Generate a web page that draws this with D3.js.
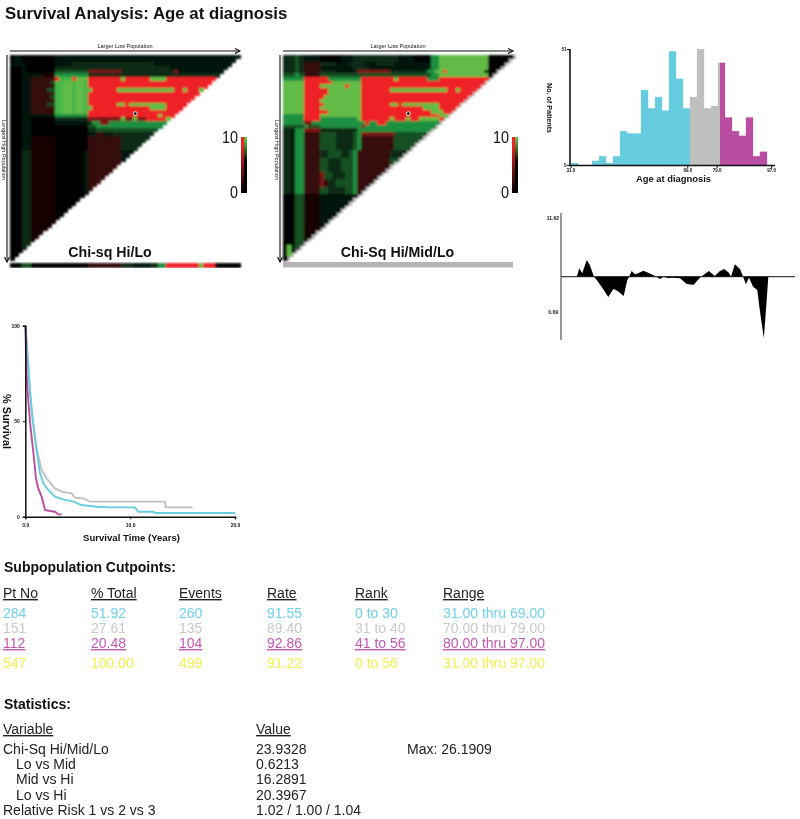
<!DOCTYPE html>
<html><head><meta charset="utf-8">
<script src="https://cdnjs.cloudflare.com/ajax/libs/d3/7.8.5/d3.min.js"></script>
<style>html,body{margin:0;padding:0;background:#fff}svg{display:block;filter:blur(0.4px)}text{font-family:"Liberation Sans",Arial,sans-serif}</style>
</head><body><svg id="c" width="800" height="819"></svg>
<script>
// ---- data -------------------------------------------------------------
const mapSize = 56;
// Heat-map rows: "repeat*runs", each run = length + level letter.
const hiLoRows = [
"1*1k1a1a8k10a12a24a","1*1k1a1a8k10a14a22a","1*3a1a7k4a20b21a","1*3k1a7k8b20b17a",
"1*3k1a7k8c8s13b1s15a","1*3k1a4a3q8e37b",
"1*3k2a6r1R3H1R3G8R1G6R4G20R","1*3k2a5r1c2H2G1H2G1H38R","1*3k2a6r2H2G1H2G1H37R",
"1*3k2a4r2c2H2G1H2G1H1G6R14G2R1G3R1G1R","1*3k2a6r2H2G1H2G1H37R","1*3k2a5r1c2H2G1H2G1H37R",
"1*3k2a6r2H2G1H2G1H37R","1*3k2a4r2c2H2G1H2G1H7R2G1R9G20R","1*3k2a6r2H2G1H2G1H1G14R4G20R",
"1*3k2a6r2H2G1H2G1H37R","1*3k2a6a8e17R1G20R","1*3k2a6k8b8s1G2s1G2s5R1G20R",
"1*3k2a6k8a1b2e2s2e25e","1*3k2a6k8k2c34e","1*3k1a1a6k8k2b34c",
"1*3k2a6k8k2a2r2a30b","4*3k2a6q8k8r30b","14*3k2b6q7k1a8r30a","1*3k2b6q7k1a30a",
"16*3k2b6q30k","4*3k2c6q30k","6*1k1b1c2c30k"
];
const hiMidLoRows = [
"1*3b1c1b4a5k3a11b4a4k2e12G6k","1*3b1c1b4a5k3a11b4a4k2e12G6k","1*3b1c1b4r4b3a4b3a4b9a2e12G6k","1*3b1c1b4r3a5a4b4a11a2e12G6k",
"1*3b1c1b4r4b3a2a8s9b2e2G1R9G6k","1*3c1e1c4r27c2e12G6k",
"1*5e6R8e8R1G7R3e12R","1*5G7R7G30R","1*5G4R6G1R3G30R",
"1*5G6R8G7R14G2R1G4R","1*5G6R8G30R","1*5G5R9G30R",
"1*5G4R10G30R","1*5G5R9G7R2G1R9G12R","1*5G4R10G15R4G12R",
"1*5G6R8G17R3G10R","1*5e4R10G19R2G6R1G4R","1*5e4R9e1G7R1G3R1G2R5G3R",
"1*5e2s8e5e1R2e2R14e","1*5c1e3c10e1s28e","1*2b1a2e4s9b1e30e","1*2b1a2e4r4c4b1c1e8s28c",
"4*2b1a2e4r4c4b1c1e8r30c","2*2b1a2e4r2b3c2b1c1e8r30b","4*2b1a2e4r2c3b3c1e8r30c",
"2*2b1a2e4r1s2c3b2c1e8r30b","2*2b1a2e4r1s1r2b4c1e8r30b","2*2b1a2e4r2c4b2c1e8r30b",
"14*3k2c4q20a","3*1k1G1b1c","1*1k1a"
];
const hiLoStrip = "3k2c14k8r3b4a2b2e8R1G3R6k";
const cutCells = [{row:15,col:30}];
const mapLegendLabels = ["10","0"];

const histCounts = [1,0,0,2,4,1,4,15,14,14,33,25,30,24,50,38,25,30,51,25,26,45,21,15,13,21,4,6];
const histCuts = [17, 21.3];
const histTicks = [{pos:0,label:"31.0"},{pos:16.7,label:"69.0"},{pos:20.9,label:"79.0"},{pos:28.7,label:"97.0"}];

const diffRank = [0.5,1.25,2.1,3.4,4.3,5.5,6.3,7.7,9.65,11.1,12.35,14.1,15.15,15.7,16.4,17.4,18.3,19.8,21.2,23.2,24.6,25.6,27,28.5,30.4,32.3,34.3,36.2,37.2,38.8,40.5,42,43.2,44.6,45.2,46.3,47.8,48.7,49.5,50.4,51.6,52.8,53.6,54.7,55.5,56];
const diffValue = [0,1.67,0.67,3.33,2.33,0,-0.67,-2,-4.07,-2.47,-2.87,-3.87,-0.67,0,1.13,0.47,0.67,1.2,0.8,0.13,-0.47,-0.07,-0.27,-0.2,-0.33,-1.4,-1.67,-0.2,0.33,1.13,0.13,1.13,1.53,0.8,0,2.47,1.53,0,-1.53,-0.2,-2,-2.67,-7,-12.33,-5,0];

const blueT = [0,.13,.29,.45,.67,.92,1.14,1.4,1.72,2.19,2.83,3.62,4.58,5.37,6.8,8.08,10.46,10.78,12.21,12.37,20];
const blueS = [100,91.6,77.7,65.4,53.2,41,32.3,22.7,17.5,14,10.5,9.1,7.9,6.1,5.2,4.9,4.9,2.6,2.6,1.9,1.9];
const grayT = [0,.29,.6,1.08,1.56,2.03,2.83,3.47,4.42,4.74,5.53,6.17,13.32,13.39,15.96];
const grayS = [100,79.4,54.9,35.7,24.4,20,14.8,13.1,12.2,9.9,9.6,7.9,7.9,4.9,4.9];
const magT = [0,.13,.29,.51,.76,1.02,1.24,1.56,1.88,2.35,2.83,3.15,3.47];
const magS = [100,74.2,60.2,46.2,34,20,14.8,10.5,3.5,3,2.6,1.2,1.2];
const survXTicks = [0,10,20];
const survYTicks = [0,50,100];

const cutHeaders = ["Pt No","% Total","Events","Rate","Rank","Range"];
const cutLow  = ["284","51.92","260","91.55","0 to 30","31.00 thru 69.00"];
const cutMid  = ["151","27.61","135","89.40","31 to 40","70.00 thru 79.00"];
const cutHigh = ["112","20.48","104","92.86","41 to 56","80.00 thru 97.00"];
const cutAll  = ["547","100.00","499","91.22","0 to 56","31.00 thru 97.00"];
const statNames  = ["Chi-Sq Hi/Mid/Lo","Lo vs Mid","Mid vs Hi","Lo vs Hi","Relative Risk 1 vs 2 vs 3"];
const statValues = ["23.9328","0.6213","16.2891","20.3967","1.02 / 1.00 / 1.04"];

// ---- helpers ----------------------------------------------------------
const svg = d3.select("#c");
const INK="#111";
const BLUE="#66cce0", GRAY="#bfbfbf", MAG="#b94ea0";
const level = d3.scaleOrdinal()
  .domain(["k","a","b","c","e","G","H","q","r","s","R"])
  .range(["#020302","#06140a","#0b2b14","#125024","#1c8f40","#62bb46","#45b649","#170606","#350d0d","#7a1414","#ee2326"]);

const defsBlur = svg.append("defs").append("filter").attr("id","soft").attr("x","-2%").attr("y","-2%").attr("width","104%").attr("height","104%");
defsBlur.append("feGaussianBlur").attr("stdDeviation",0.8);

function txt(g,x,y,s,o={}){
  const t=g.append("text").attr("x",x).attr("y",y).text(s)
    .attr("font-size",o.size||14).attr("fill",o.fill||INK)
    .attr("font-weight",o.bold?"bold":"normal").attr("text-anchor",o.anchor||"start");
  if(o.under) t.attr("text-decoration","underline");
  if(o.rot!==undefined) t.attr("transform",`rotate(${o.rot} ${x} ${y})`);
  return t;
}
function runs(str){
  const out=[]; for(const m of str.matchAll(/(\d+)([A-Za-z])/g)) for(let i=0;i<+m[1];i++) out.push(m[2]);
  return out;
}
function expandRows(rows){
  const out=[]; rows.forEach(r=>{const [n,b]=r.split("*"); for(let i=0;i<+n;i++) out.push(runs(b));});
  return out;
}
function arrowHead(g,x,y,dir){
  const p=dir==="r"?[[x-5,y-2.5],[x,y],[x-5,y+2.5]]:[[x-2.5,y-5],[x,y],[x+2.5,y-5]];
  g.append("path").attr("d",d3.line()(p)).attr("fill","none").attr("stroke",INK).attr("stroke-width",1.1);
}
function heatmap(cfg){
  const g=svg.append("g");
  const ids=d3.range(mapSize);
  const x=d3.scaleBand().domain(ids).range(cfg.xr);
  const y=d3.scaleBand().domain(ids).range(cfg.yr);
  const cells=[];
  expandRows(cfg.rows).forEach((row,r)=>row.forEach((v,c)=>{ if(r<mapSize && c+r<mapSize) cells.push({r,c,v}); }));
  const cg=g.append("g").attr("filter","url(#soft)").attr("shape-rendering","crispEdges");
  if(cfg.edge){
    cg.selectAll("rect.edge").data(ids).join("rect").attr("class","edge")
      .attr("x",r=>x.range()[0]+(mapSize-r)*x.step()).attr("y",r=>y(r))
      .attr("width",x.step()*.7).attr("height",y.bandwidth()+.5).attr("fill","#bdbdbd");
  }
  cg.selectAll("rect.cell").data(cells).join("rect").attr("class","cell")
    .attr("x",d=>x(d.c)).attr("y",d=>y(d.r))
    .attr("width",x.bandwidth()+.6).attr("height",y.bandwidth()+.6)
    .attr("fill",d=>level(d.v));
  cutCells.forEach(d=>{
    g.append("circle").attr("cx",x(d.col)+x.bandwidth()/2).attr("cy",y(d.row)+y.bandwidth()).attr("r",1.9)
      .attr("fill","#111").attr("stroke","#fff").attr("stroke-width",.9);
  });
  // arrows
  const [x0,x1]=cfg.xr,[y0,y1]=cfg.yr, ax=y0-4, ay=x0-3;
  g.append("line").attr("x1",x0).attr("x2",x1).attr("y1",ax).attr("y2",ax).attr("stroke",INK).attr("stroke-width",1.1);
  arrowHead(g,x1,ax,"r");
  g.append("line").attr("x1",ay).attr("x2",ay).attr("y1",y0).attr("y2",y1+2).attr("stroke",INK).attr("stroke-width",1.1);
  arrowHead(g,ay,y1+2,"d");
  txt(g,(x0+x1)/2,ax-3,"Larger Low Population",{size:5.5,anchor:"middle"});
  txt(g,ay-5,y0+65,"Longest High Population",{size:5.5,rot:90,anchor:"start"});
  txt(g,cfg.labelX,257,cfg.label,{size:14.2,bold:true,anchor:"middle"});
  // legend
  const gid="lg"+cfg.key;
  const defs=svg.append("defs");
  [["r","#ee2326"],["g","#62bb46"]].forEach(([k,c])=>{
    const lg=defs.append("linearGradient").attr("id",gid+k).attr("x1",0).attr("x2",0).attr("y1",1).attr("y2",0);
    lg.append("stop").attr("offset",k==="r"?"0":"0.55").attr("stop-color","#000");
    lg.append("stop").attr("offset",k==="r"?"0.85":"0.95").attr("stop-color",c);
    lg.append("stop").attr("offset","1").attr("stop-color",c);
  });
  const lx=cfg.legendX;
  g.append("rect").attr("x",lx).attr("y",137).attr("width",3).attr("height",56).attr("fill",`url(#${gid}r)`);
  g.append("rect").attr("x",lx+3).attr("y",137).attr("width",3).attr("height",56).attr("fill",`url(#${gid}g)`);
  txt(g,lx-3,143,mapLegendLabels[0],{size:17,anchor:"end"}).attr("textLength",16).attr("lengthAdjust","spacingAndGlyphs");
  txt(g,lx-3,198,mapLegendLabels[1],{size:17,anchor:"end"}).attr("textLength",8).attr("lengthAdjust","spacingAndGlyphs");
  return {g,x,y};
}

// ---- title ------------------------------------------------------------
txt(svg,5,19,"Survival Analysis: Age at diagnosis",{size:16.8,bold:true});

// ---- heat maps --------------------------------------------------------
const left=heatmap({key:"a",rows:hiLoRows,xr:[10,240],yr:[55,260],label:"Chi-sq Hi/Lo",labelX:110,legendX:241});
const right=heatmap({key:"b",rows:hiMidLoRows,xr:[283,513],yr:[55,260],label:"Chi-Sq Hi/Mid/Lo",labelX:397.5,legendX:512,edge:true});
left.g.append("g").attr("filter","url(#soft)").attr("shape-rendering","crispEdges").selectAll("rect.strip").data(runs(hiLoStrip)).join("rect").attr("class","strip")
  .attr("x",(d,i)=>left.x(i)).attr("y",263).attr("width",left.x.bandwidth()+.6).attr("height",4.5).attr("fill",d=>level(d));
right.g.append("rect").attr("x",283).attr("y",262).attr("width",230).attr("height",5.5).attr("fill","#b4b4b4");

// ---- histogram --------------------------------------------------------
(function(){
  const g=svg.append("g");
  const x=d3.scaleLinear().domain([0,28]).range([571,766.8]);
  const y=d3.scaleLinear().domain([0,51]).range([165.3,49]);
  const segs=[];
  histCounts.forEach((v,i)=>{
    const edges=[i,...histCuts.filter(c=>c>i&&c<i+1),i+1];
    d3.pairs(edges).forEach(([a,b])=>{
      const m=(a+b)/2;
      segs.push({a,b,v,col:m<histCuts[0]?BLUE:m<histCuts[1]?GRAY:MAG});
    });
  });
  g.selectAll("rect").data(segs).join("rect")
    .attr("x",d=>x(d.a)).attr("width",d=>x(d.b)-x(d.a)+.3)
    .attr("y",d=>y(d.v)).attr("height",d=>y(0)-y(d.v)).attr("fill",d=>d.col);
  g.append("line").attr("x1",570).attr("x2",570).attr("y1",49).attr("y2",166).attr("stroke",INK).attr("stroke-width",1.6);
  g.append("line").attr("x1",570).attr("x2",775).attr("y1",165.5).attr("y2",165.5).attr("stroke",INK).attr("stroke-width",1.4);
  g.append("line").attr("x1",567).attr("x2",570).attr("y1",49.5).attr("y2",49.5).attr("stroke",INK);
  g.append("line").attr("x1",567).attr("x2",570).attr("y1",165.5).attr("y2",165.5).attr("stroke",INK);
  txt(g,566.5,51,"51",{size:4.5,bold:true,anchor:"end"});
  txt(g,566.5,167,"0",{size:4.5,bold:true,anchor:"end"});
  histTicks.forEach(t=>{
    const px=x(t.pos);
    g.append("line").attr("x1",px).attr("x2",px).attr("y1",165).attr("y2",168).attr("stroke",INK);
    txt(g,px,171.5,t.label,{size:4.5,bold:true,anchor:"middle"});
  });
  txt(g,673.5,182,"Age at diagnosis",{size:9,bold:true,anchor:"middle"}).attr("textLength",75).attr("lengthAdjust","spacingAndGlyphs");
  txt(g,546.5,83,"No. of Patients",{size:8,bold:true,rot:90}).attr("textLength",50).attr("lengthAdjust","spacingAndGlyphs");
})();

// ---- difference plot --------------------------------------------------
(function(){
  const g=svg.append("g");
  const x=d3.scaleLinear().domain([0,56]).range([575,768.3]);
  const y=d3.scaleLinear().domain([0,10]).range([276.7,226.7]);
  const pts=diffRank.map((r,i)=>[r,diffValue[i]]);
  g.append("path").attr("d",d3.area().x(d=>x(d[0])).y0(y(0)).y1(d=>y(d[1]))(pts)).attr("fill","#000");
  g.append("line").attr("x1",561).attr("x2",795).attr("y1",y(0)).attr("y2",y(0)).attr("stroke",INK).attr("stroke-width",1);
  g.append("line").attr("x1",561).attr("x2",561).attr("y1",213).attr("y2",340).attr("stroke","#333").attr("stroke-width",1);
  txt(g,559,220,"11.62",{size:5,bold:true,anchor:"end"});
  txt(g,558,314,"0.09",{size:5,bold:true,anchor:"end"});
})();

// ---- survival plot ----------------------------------------------------
(function(){
  const g=svg.append("g");
  const x=d3.scaleLinear().domain([0,20]).range([25.3,235]);
  const y=d3.scaleLinear().domain([0,100]).range([516.7,325.7]);
  const line=d3.line().x(d=>x(d[0])).y(d=>y(d[1]));
  [[grayT,grayS,GRAY],[blueT,blueS,BLUE],[magT,magS,MAG]].forEach(([t,s,c])=>{
    g.append("path").attr("d",line(t.map((v,i)=>[v,s[i]]))).attr("fill","none").attr("stroke",c).attr("stroke-width",1.9);
  });
  const xa=g.append("g").attr("transform",`translate(0,${y(0)})`).call(d3.axisBottom(x).tickValues(survXTicks).tickSize(2.5).tickFormat(d3.format(".1f")));
  const ya=g.append("g").attr("transform",`translate(${x(0)},0)`).call(d3.axisLeft(y).tickValues(survYTicks).tickSize(2.5).tickFormat(d=>d));
  [xa,ya].forEach(a=>{
    a.attr("font-family",null);
    a.selectAll("path").attr("stroke",INK).attr("stroke-width",1.5);
    a.selectAll("line").attr("stroke",INK);
    a.selectAll("text").attr("font-size",5).attr("font-weight","bold").attr("fill",INK);
  });
  xa.selectAll("text").attr("dy","0.9em");
  txt(g,131.5,541,"Survival Time (Years)",{size:9.5,bold:true,anchor:"middle"}).attr("textLength",97).attr("lengthAdjust","spacingAndGlyphs");
  txt(g,3,394,"% Survival",{size:10,bold:true,rot:90}).attr("textLength",55).attr("lengthAdjust","spacingAndGlyphs");
})();

// ---- tables -----------------------------------------------------------
(function(){
  const g=svg.append("g");
  const colX=d3.scalePoint().domain(d3.range(cutHeaders.length)).range([3,443]);
  txt(g,4,572,"Subpopulation Cutpoints:",{bold:true});
  cutHeaders.forEach((h,i)=>txt(g,colX(i),598,h,{under:true,fill:"#222"}));
  [[cutLow,618,"#6dd0ec",false],[cutMid,633,"#c9c9c9",false],[cutHigh,648,"#c457b2",true],[cutAll,668,"#f4ef4b",false]].forEach(([row,yy,c,u])=>{
    row.forEach((v,i)=>txt(g,colX(i),yy,v,{fill:c,under:u}));
  });
  txt(g,4,709,"Statistics:",{bold:true});
  txt(g,3,734,"Variable",{under:true,fill:"#222"});
  txt(g,256,734,"Value",{under:true,fill:"#222"});
  const ys=[754,769,784,800,815];
  statNames.forEach((n,i)=>txt(g,(i>0&&i<4)?16:3,ys[i],n,{fill:"#222"}));
  statValues.forEach((n,i)=>txt(g,256,ys[i],n,{fill:"#222"}));
  txt(g,407,754,"Max: 26.1909",{fill:"#222"});
})();
</script></body></html>
